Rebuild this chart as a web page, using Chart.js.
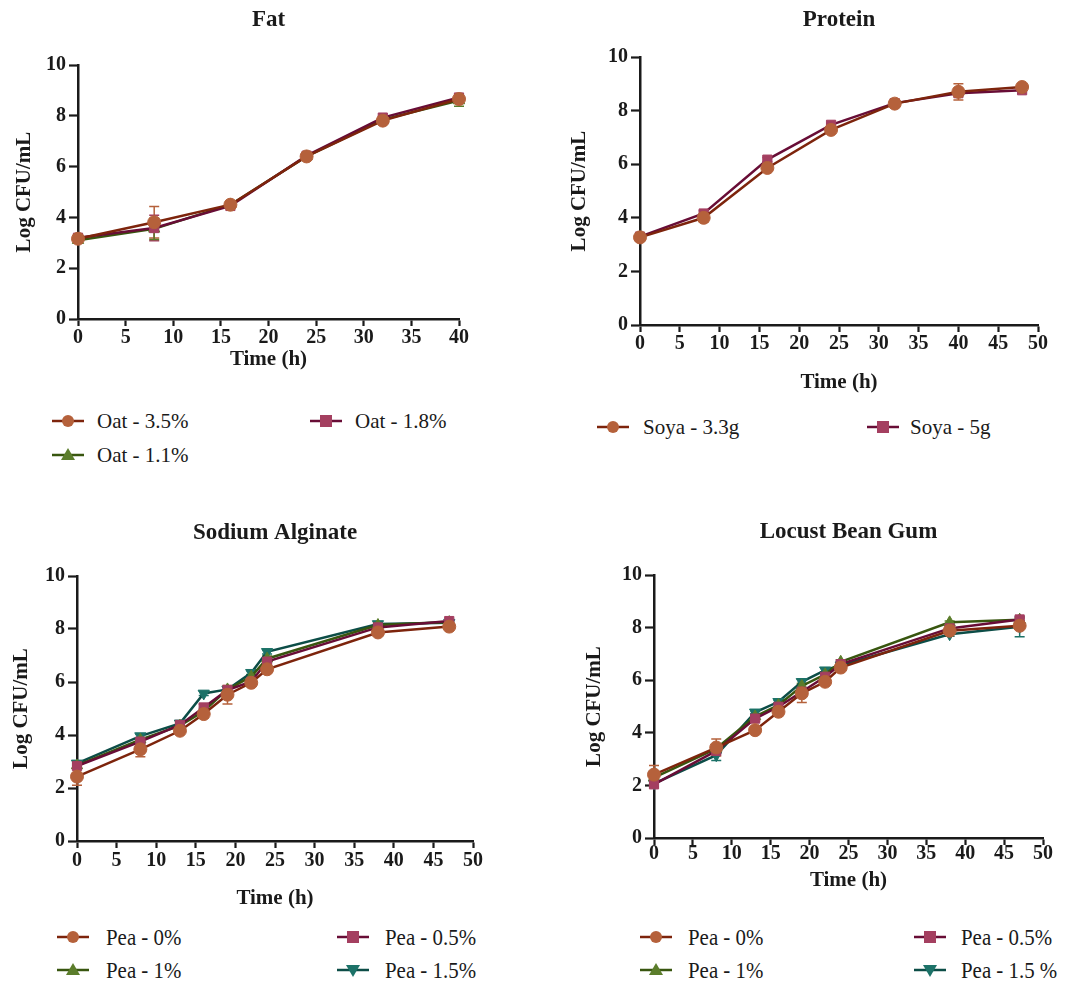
<!DOCTYPE html>
<html>
<head>
<meta charset="utf-8">
<script src="https://cdn.jsdelivr.net/npm/chart.js@4.4.1/dist/chart.umd.min.js"></script>
<style>
    body { margin: 0; background: #fff; width: 1069px; height: 983px; position: relative; overflow: hidden;
           font-family: 'Liberation Serif', 'Times New Roman', Tinos, 'Nimbus Roman', FreeSerif, 'DejaVu Serif', serif; color: #1a1a1a; }
    canvas { position: absolute; }
    .item { position: absolute; display: flex; align-items: center; white-space: nowrap; }
    .item span { position: absolute; left: 0; font-size: 21px; line-height: 1; transform-origin: left center; }
    .narrow span { font-size: 24px; transform: scaleX(0.87); }
</style>
</head>
<body>
<canvas id="fat" width="490" height="376" style="left:0;top:0"></canvas>
<canvas id="protein" width="509" height="399" style="left:560px;top:0"></canvas>
<canvas id="alginate" width="500" height="410" style="left:0;top:505px"></canvas>
<canvas id="locust" width="509" height="392" style="left:560px;top:505px"></canvas>
<div id="legends"></div>
<script>
'use strict';

// Fat panel
const fatTime = [0, 8, 16, 24, 32, 40];
const oat35 = [3.16, 3.81, 4.50, 6.40, 7.81, 8.66];
const oat35Err = [0.08, 0.62, 0.08, 0.05, 0.08, 0.10];
const oat18 = [3.20, 3.58, 4.45, 6.43, 7.93, 8.72];
const oat18Err = [0.05, 0.50, 0.06, 0.05, 0.05, 0.10];
const oat11 = [3.10, 3.55, 4.50, 6.40, 7.85, 8.60];
const oat11Err = [0.05, 0.42, 0.05, 0.05, 0.05, 0.22];

// Protein panel
const proteinTime = [0, 8, 16, 24, 32, 40, 48];
const soya33 = [3.27, 4.00, 5.86, 7.28, 8.26, 8.70, 8.88];
const soya33Err = [0.05, 0.16, 0.10, 0.08, 0.05, 0.30, 0.05];
const soya5 = [3.30, 4.16, 6.17, 7.47, 8.28, 8.65, 8.76];
const soya5Err = [0.05, 0.10, 0.08, 0.05, 0.05, 0.10, 0.05];

// Sodium alginate / locust bean gum panels share the sampling times
const peaTime = [0, 8, 13, 16, 19, 22, 24, 38, 47];
const saPea0 = [2.43, 3.46, 4.16, 4.79, 5.52, 5.97, 6.48, 7.87, 8.09];
const saPea0Err = [0.33, 0.28, 0.10, 0.15, 0.35, 0.10, 0.08, 0.05, 0.05];
const saPea05 = [2.83, 3.75, 4.38, 5.04, 5.70, 6.01, 6.77, 8.06, 8.30];
const saPea05Err = [0.08, 0.10, 0.08, 0.12, 0.10, 0.08, 0.10, 0.05, 0.05];
const saPea1 = [2.85, 3.82, 4.35, 4.90, 5.72, 6.20, 6.88, 8.15, 8.26];
const saPea1Err = [0.08, 0.08, 0.08, 0.10, 0.08, 0.08, 0.10, 0.05, 0.05];
const saPea15 = [2.93, 3.96, 4.44, 5.57, 5.72, 6.35, 7.14, 8.19, 8.24];
const saPea15Err = [0.08, 0.08, 0.08, 0.08, 0.10, 0.08, 0.08, 0.05, 0.05];

const lbgPea0 = [2.41, 3.44, 4.10, 4.80, 5.50, 5.94, 6.48, 7.88, 8.07];
const lbgPea0Err = [0.35, 0.32, 0.08, 0.15, 0.35, 0.10, 0.08, 0.08, 0.10];
const lbgPea05 = [2.04, 3.31, 4.54, 4.99, 5.56, 6.13, 6.61, 7.97, 8.31];
const lbgPea05Err = [0.10, 0.10, 0.10, 0.10, 0.10, 0.08, 0.08, 0.05, 0.08];
const lbgPea1 = [2.30, 3.40, 4.62, 5.05, 5.78, 6.22, 6.70, 8.20, 8.30];
const lbgPea1Err = [0.08, 0.10, 0.08, 0.08, 0.10, 0.08, 0.08, 0.05, 0.05];
const lbgPea15 = [2.07, 3.15, 4.78, 5.18, 5.94, 6.38, 6.57, 7.75, 8.03];
const lbgPea15Err = [0.10, 0.20, 0.05, 0.05, 0.10, 0.08, 0.05, 0.08, 0.38];

// marker / line colours, same order in every panel
const styles = {
    circle: { marker: '#b5613b', line: '#7d240c', pointStyle: 'circle', rotation: 0 },
    square: { marker: '#a43f60', line: '#680d36', pointStyle: 'rect', rotation: 0 },
    up:     { marker: '#5b7d2b', line: '#38560f', pointStyle: 'triangle', rotation: 0 },
    down:   { marker: '#1c7268', line: '#0c4d47', pointStyle: 'triangle', rotation: 180 }
};

const ink = '#1a1a1a';
const serif = "'Liberation Serif', 'Times New Roman', Tinos, 'Nimbus Roman', FreeSerif, 'DejaVu Serif', serif";

//Рисую усы погрешностей через шкалы графика
const errorBars = {
    id: 'errorBars',
    beforeDatasetsDraw(chart) {
        let ctx = chart.ctx;
        let xs = chart.scales.x, ys = chart.scales.y;
        chart.data.datasets.forEach(ds => {
            if (!ds.errors) return;
            ctx.save();
            ctx.strokeStyle = ds.pointBackgroundColor;
            ctx.lineWidth = 1.5;
            ds.data.forEach((p, i) => {
                let e = ds.errors[i];
                if (!e) return;
                let px = xs.getPixelForValue(p.x);
                let top = ys.getPixelForValue(p.y + e);
                let bot = ys.getPixelForValue(p.y - e);
                ctx.beginPath();
                ctx.moveTo(px, top); ctx.lineTo(px, bot);
                ctx.moveTo(px - 5, top); ctx.lineTo(px + 5, top);
                ctx.moveTo(px - 5, bot); ctx.lineTo(px + 5, bot);
                ctx.stroke();
            });
            ctx.restore();
        });
    }
};

function makeDataset(label, time, values, errors, style) {
    let s = styles[style];
    return {
        label: label,
        data: time.map((t, i) => ({ x: t, y: values[i] })),
        errors: errors,
        borderColor: s.line,
        borderWidth: 2.5,
        pointStyle: s.pointStyle,
        rotation: s.rotation,
        pointRadius: 6.5,
        pointBackgroundColor: s.marker,
        pointBorderColor: s.marker,
        pointBorderWidth: 1,
        tension: 0,
        clip: false
    };
}

function createChart(id, title, datasets, xMax, lay) {
    let axisGrid = { display: true, drawOnChartArea: false, drawTicks: true, color: ink, tickColor: ink, tickWidth: 2.2 };
    return new Chart(document.getElementById(id), {
        type: 'line',
        data: { datasets: datasets },
        options: {
            responsive: false,
            animation: false,
            layout: { padding: { left: 0, right: lay.right, top: 0, bottom: 0 } },
            plugins: {
                legend: { display: false },
                tooltip: { enabled: false },
                title: {
                    display: true, text: title, color: ink, fullSize: false,
                    font: { family: serif, size: 23, weight: 'bold', lineHeight: 1 },
                    padding: { top: lay.titleTop, bottom: lay.titleBottom }
                }
            },
            scales: {
                x: {
                    type: 'linear', min: 0, max: xMax,
                    ticks: { stepSize: 5, color: ink, padding: lay.xPad, maxRotation: 0,
                             font: { family: serif, size: 20, weight: 'bold' } },
                    grid: Object.assign({ tickLength: 7 }, axisGrid),
                    border: { color: ink, width: 2.5 },
                    title: { display: true, text: 'Time (h)', color: ink,
                             font: { family: serif, size: 21, weight: 'bold' } },
                    afterFit: scale => { scale.height = lay.xHeight; }
                },
                y: {
                    min: 0, max: 10,
                    ticks: { stepSize: 2, color: ink, padding: 3,
                             font: { family: serif, size: 20, weight: 'bold' } },
                    grid: Object.assign({ tickLength: 9 }, axisGrid),
                    border: { color: ink, width: 2.5 },
                    title: { display: true, text: 'Log CFU/mL', color: ink,
                             padding: { top: lay.yTitle, bottom: 4 },
                             font: { family: serif, size: 21, weight: 'bold' } },
                    afterFit: scale => { scale.width = lay.yWidth; }
                }
            }
        },
        plugins: [errorBars]
    });
}

let fatChart = createChart('fat', 'Fat', [
    makeDataset('Oat - 3.5%', fatTime, oat35, oat35Err, 'circle'),
    makeDataset('Oat - 1.8%', fatTime, oat18, oat18Err, 'square'),
    makeDataset('Oat - 1.1%', fatTime, oat11, oat11Err, 'up')
], 40, { right: 31, titleTop: 9, titleBottom: 33, xPad: 0, xHeight: 57, yWidth: 78, yTitle: 12 });

let proteinChart = createChart('protein', 'Protein', [
    makeDataset('Soya - 3.3g', proteinTime, soya33, soya33Err, 'circle'),
    makeDataset('Soya - 5g', proteinTime, soya5, soya5Err, 'square')
], 50, { right: 31, titleTop: 9, titleBottom: 25, xPad: 0, xHeight: 74, yWidth: 80, yTitle: 7 });

let alginateChart = createChart('alginate', 'Sodium Alginate', [
    makeDataset('Pea - 0%', peaTime, saPea0, saPea0Err, 'circle'),
    makeDataset('Pea - 0.5%', peaTime, saPea05, saPea05Err, 'square'),
    makeDataset('Pea - 1%', peaTime, saPea1, saPea1Err, 'up'),
    makeDataset('Pea - 1.5%', peaTime, saPea15, saPea15Err, 'down')
], 50, { right: 27, titleTop: 17, titleBottom: 31, xPad: 1, xHeight: 74, yWidth: 77, yTitle: 9 });

let locustChart = createChart('locust', 'Locust Bean Gum', [
    makeDataset('Pea - 0%', peaTime, lbgPea0, lbgPea0Err, 'circle'),
    makeDataset('Pea - 0.5%', peaTime, lbgPea05, lbgPea05Err, 'square'),
    makeDataset('Pea - 1%', peaTime, lbgPea1, lbgPea1Err, 'up'),
    makeDataset('Pea - 1.5 %', peaTime, lbgPea15, lbgPea15Err, 'down')
], 50, { right: 26, titleTop: 16, titleBottom: 31, xPad: -3, xHeight: 59, yWidth: 94, yTitle: 22 });

//Легенды: маркер по центру (x, y), текст начинается с tx
function markerSvg(style) {
    let s = styles[style];
    let m;
    if (style === 'circle') m = `<circle cx="16" cy="9" r="6" fill="${s.marker}"/>`;
    else if (style === 'square') m = `<rect x="10" y="3" width="12" height="12" fill="${s.marker}"/>`;
    else if (style === 'up') m = `<polygon points="16,2 23,14 9,14" fill="${s.marker}"/>`;
    else m = `<polygon points="9,4 23,4 16,16" fill="${s.marker}"/>`;
    return `<svg width="32" height="18" style="position:absolute;left:0;top:0">` +
        `<line x1="0" y1="9" x2="32" y2="9" stroke="${s.line}" stroke-width="2.5"/>${m}</svg>`;
}

function createLegend(chart, places, narrow) {
    let box = document.getElementById('legends');
    chart.data.datasets.forEach((ds, i) => {
        let p = places[i];
        let style = ['circle', 'square', 'up', 'down'][i];
        box.insertAdjacentHTML('beforeend',
            `<div class="item${narrow ? ' narrow' : ''}" style="left:${p[0] - 16}px;top:${p[1] - 9}px;height:18px">` +
            markerSvg(style) +
            `<span style="left:${p[2] - p[0] + 16}px">${ds.label}</span></div>`);
    });
}

createLegend(fatChart, [[68, 421, 97], [326, 421, 355], [68, 455, 97]], false);
createLegend(proteinChart, [[613, 427, 643], [883, 427, 910]], false);
createLegend(alginateChart, [[73, 937, 106], [353, 937, 385], [73, 970, 106], [353, 970, 385]], true);
createLegend(locustChart, [[656, 937, 688], [930, 937, 961], [656, 970, 688], [930, 970, 961]], true);
</script>
</body>
</html>
